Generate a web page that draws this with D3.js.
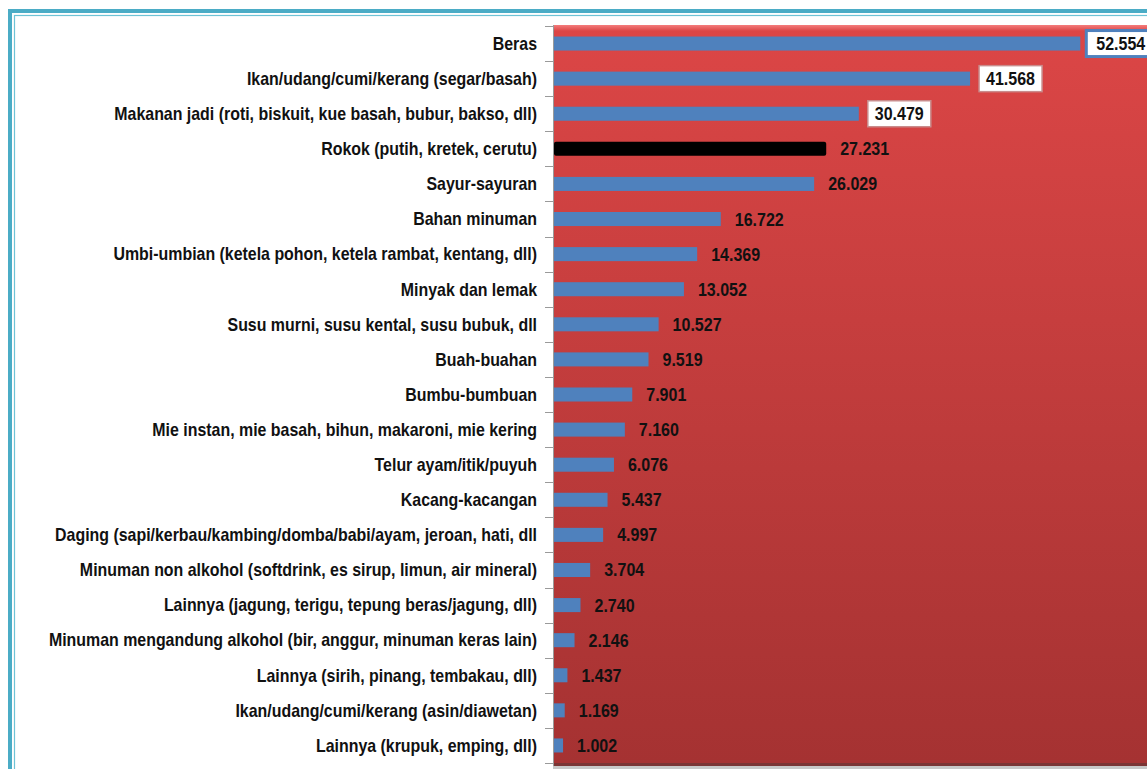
<!DOCTYPE html>
<html>
<head>
<meta charset="utf-8">
<script src="https://cdn.jsdelivr.net/npm/d3@7"></script>
<style>
  body { margin: 0; background: #fff; overflow: hidden; }
  svg { display: block; }
</style>
</head>
<body>
<div id="chart"></div>
<script>
// categories, top to bottom
var categories = [
    "Beras",
    "Ikan/udang/cumi/kerang (segar/basah)",
    "Makanan jadi (roti, biskuit, kue basah, bubur, bakso, dll)",
    "Rokok (putih, kretek, cerutu)",
    "Sayur-sayuran",
    "Bahan minuman",
    "Umbi-umbian (ketela pohon, ketela rambat, kentang, dll)",
    "Minyak dan lemak",
    "Susu murni, susu kental, susu bubuk, dll",
    "Buah-buahan",
    "Bumbu-bumbuan",
    "Mie instan, mie basah, bihun, makaroni, mie kering",
    "Telur ayam/itik/puyuh",
    "Kacang-kacangan",
    "Daging (sapi/kerbau/kambing/domba/babi/ayam, jeroan, hati, dll",
    "Minuman non alkohol (softdrink, es sirup, limun, air mineral)",
    "Lainnya (jagung, terigu, tepung beras/jagung, dll) ",
    "Minuman mengandung alkohol (bir, anggur, minuman keras lain)",
    "Lainnya (sirih, pinang, tembakau, dll)",
    "Ikan/udang/cumi/kerang (asin/diawetan)",
    "Lainnya (krupuk, emping, dll)"
];
var values = [52.554, 41.568, 30.479, 27.231, 26.029, 16.722, 14.369, 13.052, 10.527,
    9.519, 7.901, 7.160, 6.076, 5.437, 4.997, 3.704, 2.740, 2.146, 1.437, 1.169, 1.002];
var valueLabels = ["52.554", "41.568", "30.479", "27.231", "26.029", "16.722", "14.369",
    "13.052", "10.527", "9.519", "7.901", "7.160", "6.076", "5.437", "4.997", "3.704",
    "2.740", "2.146", "1.437", "1.169", "1.002"];
var highlight = "Rokok (putih, kretek, cerutu)";
var boxed = ["Beras", "Ikan/udang/cumi/kerang (segar/basah)",
    "Makanan jadi (roti, biskuit, kue basah, bubur, bakso, dll)"];
var xDomain = [0, 60];

var data = categories.map((c, i) => ({cat: c, value: values[i], label: valueLabels[i]}));

var svgWidth = 1147;
var svgHeight = 769;
var plot = {left: 553, top: 25, width: 602, height: 738};

var svg = d3.select("#chart")
    .append("svg")
    .attr("width", svgWidth)
    .attr("height", svgHeight);

var defs = svg.append("defs");
var grad = defs.append("linearGradient")
    .attr("id", "bgGrad")
    .attr("x1", 0).attr("y1", 0).attr("x2", 0).attr("y2", 1);
grad.append("stop").attr("offset", "0%").attr("stop-color", "#dc4646");
grad.append("stop").attr("offset", "100%").attr("stop-color", "#a53232");

var bevel = defs.append("linearGradient")
    .attr("id", "bevelGrad")
    .attr("x1", 0).attr("y1", 0).attr("x2", 0).attr("y2", 1);
bevel.append("stop").attr("offset", "0%").attr("stop-color", "#f47c7c");
bevel.append("stop").attr("offset", "100%").attr("stop-color", "#dc4646");

// outer frame
svg.append("rect")
    .attr("x", 10).attr("y", 11)
    .attr("width", svgWidth + 20).attr("height", svgHeight + 20)
    .attr("fill", "none")
    .attr("stroke", "#4bacc6")
    .attr("stroke-width", 4);
svg.append("rect")
    .attr("x", 14.5).attr("y", 15.5)
    .attr("width", svgWidth + 20).attr("height", svgHeight + 20)
    .attr("fill", "none")
    .attr("stroke", "#6ec3d6")
    .attr("stroke-width", 1.2);

// plot background
svg.append("rect")
    .attr("x", plot.left).attr("y", plot.top)
    .attr("width", plot.width).attr("height", plot.height)
    .attr("fill", "url(#bgGrad)");
svg.append("rect")
    .attr("x", plot.left).attr("y", plot.top)
    .attr("width", plot.width).attr("height", 6)
    .attr("fill", "url(#bevelGrad)");
svg.append("rect")
    .attr("x", plot.left).attr("y", plot.top + plot.height)
    .attr("width", plot.width).attr("height", 3)
    .attr("fill", "#7a3434");
svg.append("rect")
    .attr("x", plot.left).attr("y", plot.top + plot.height + 3)
    .attr("width", plot.width).attr("height", 3)
    .attr("fill", "#c8c8c8");

// scales
var x = d3.scaleLinear()
    .domain(xDomain)
    .range([plot.left, plot.left + plot.width]);

var y = d3.scaleBand()
    .domain(categories)
    .range([plot.top + 1, plot.top + plot.height])
    .paddingInner(0.6)
    .paddingOuter(0.3);

// y axis: line + ticks between categories
var yAxisG = svg.append("g");
yAxisG.append("line")
    .attr("x1", plot.left + 0.5).attr("x2", plot.left + 0.5)
    .attr("y1", plot.top).attr("y2", plot.top + plot.height + 3)
    .attr("stroke", "#9a9a9a");
var tickY = i => Math.round(y.range()[0] + i * (y.range()[1] - y.range()[0]) / categories.length) + 0.5;
yAxisG.selectAll(".tick")
    .data(d3.range(categories.length + 1))
    .enter()
    .append("line")
    .attr("x1", plot.left - 8).attr("x2", plot.left)
    .attr("y1", tickY)
    .attr("y2", tickY)
    .attr("stroke", "#9a9a9a");

// category labels
var labelScale = 0.91;
svg.selectAll(".catLabel")
    .data(data)
    .enter()
    .append("text")
    .attr("class", "catLabel")
    .attr("transform", d => `translate(537, ${y(d.cat) + y.bandwidth() / 2}) scale(${labelScale},1)`)
    .attr("dy", "0.36em")
    .attr("text-anchor", "end")
    .style("font-family", "'Liberation Sans', Arial, sans-serif")
    .style("font-weight", "bold")
    .style("font-size", "17.5px")
    .attr("fill", "#111")
    .text(d => d.cat);

// bars
svg.selectAll(".bar")
    .data(data)
    .enter()
    .append("rect")
    .attr("class", "bar")
    .attr("x", plot.left + 1)
    .attr("y", d => y(d.cat))
    .attr("width", d => x(d.value) - plot.left - 1)
    .attr("height", y.bandwidth())
    .attr("rx", d => d.cat === highlight ? 2 : 0)
    .attr("fill", d => d.cat === highlight ? "#000" : "#4f81bd");

// boxes behind top labels
var valueScale = 0.89;
var valueFont = 18;
svg.selectAll(".valBox")
    .data(data.filter(d => boxed.indexOf(d.cat) >= 0))
    .enter()
    .append("rect")
    .attr("class", "valBox")
    .attr("x", (d, i) => x(d.value) + (i === 0 ? 6 : 9))
    .attr("y", d => y(d.cat) + y.bandwidth() / 2 - 13)
    .attr("width", 63)
    .attr("height", 26)
    .attr("fill", "#fff")
    .attr("stroke", (d, i) => i === 0 ? "#4f81bd" : "#c98c8c")
    .attr("stroke-width", (d, i) => i === 0 ? 3 : 1.5);

// value labels
svg.selectAll(".valLabel")
    .data(data)
    .enter()
    .append("text")
    .attr("class", "valLabel")
    .attr("transform", d => `translate(${x(d.value) + (boxed.indexOf(d.cat) >= 0 ? 16 : 14)}, ${y(d.cat) + y.bandwidth() / 2}) scale(${valueScale},1)`)
    .attr("dy", "0.36em")
    .style("font-family", "'Liberation Sans', Arial, sans-serif")
    .style("font-weight", "bold")
    .style("font-size", valueFont + "px")
    .attr("fill", "#111")
    .text(d => d.label);
</script>
</body>
</html>
